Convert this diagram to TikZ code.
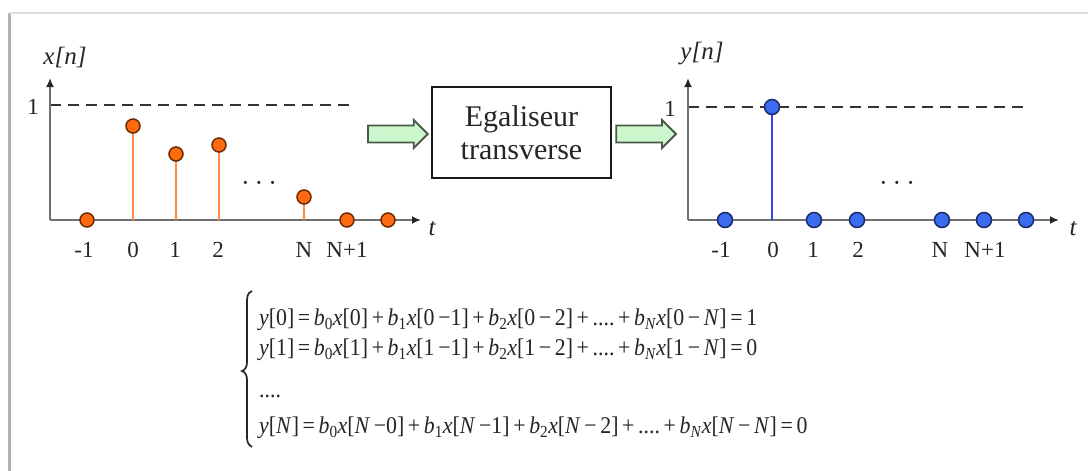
\documentclass[tikz,border=0pt]{standalone}
\usepackage{fontspec}
\setmainfont{Liberation Serif}
\usetikzlibrary{arrows.meta,calc}
\definecolor{orfill}{HTML}{FF6A10}
\definecolor{orline}{HTML}{6A2A00}
\definecolor{orstem}{HTML}{FF8C45}
\definecolor{blfill}{HTML}{3A6BF0}
\definecolor{blline}{HTML}{1A2A6A}
\definecolor{blstem}{HTML}{3344FF}
\definecolor{axgray}{HTML}{707070}
\definecolor{gfill}{HTML}{CCF7CC}
\definecolor{gline}{HTML}{4A5A4A}
\definecolor{txt}{HTML}{252525}
\newcommand\gArrow[2]{\draw[garrow] ($(#1)+(0,-8.5)$) -- ($(#2)+(-14,-8.5)$) -- ($(#2)+(-14,-14)$) -- (#2) -- ($(#2)+(-14,14)$) -- ($(#2)+(-14,8.5)$) -- ($(#1)+(0,8.5)$) -- cycle;}
\newcommand\eqsq[1]{\scalebox{0.91}[1]{#1}}
\begin{document}
\begin{tikzpicture}[x=1pt,y=-1pt,
  axis/.style={line width=2.5pt,draw=axgray,-{Latex[length=9pt,width=8pt,color=black!85]}},
  dashline/.style={line width=2.5pt,draw=black!80,dash pattern=on 11pt off 7pt},
  odot/.style={circle,fill=orfill,draw=orline,line width=1.5pt,minimum size=14pt,inner sep=0pt},
  bdot/.style={circle,fill=blfill,draw=blline,line width=1.5pt,minimum size=15pt,inner sep=0pt},
  ostem/.style={line width=2.4pt,draw=orstem},
  bstem/.style={line width=2.4pt,draw=blstem},
  tick/.style={font=\fontsize{23}{25}\selectfont,text=txt,inner sep=0pt},
  axlab/.style={font=\fontsize{25}{27}\selectfont\itshape,text=txt,inner sep=0pt},
  dotsl/.style={font=\fontsize{26}{28}\selectfont,text=txt,inner sep=0pt},
  garrow/.style={fill=gfill,draw=gline,line width=1.8pt,line join=miter},
  eqbox/.style={draw=black!90,line width=2.5pt,minimum width=179pt,minimum height=91pt,align=center,font=\fontsize{30}{33}\selectfont,text=txt},
  eq/.style={anchor=west,inner sep=0pt,text=txt,font=\fontsize{24}{26}\selectfont},
]
\useasboundingbox (0,0) rectangle (1088,471);
% frame
\draw[line width=3pt,draw=black!30] (9,13) -- (9,471);
\draw[line width=1.5pt,draw=black!13] (9,13) -- (1088,13);

% ---------- left plot ----------
\coordinate (lo) at (50,220);
\coordinate (lxe) at (421,220);
\coordinate (lye) at (50,78);
\coordinate (lone) at (50,105);
\coordinate (ldash) at (356,105);
\draw[dashline] (lone) -- (ldash);
\draw[axis] (lo) -- (lxe);
\draw[axis] (lo) -- (lye);
\node[axlab] (lyl) at (65,57) {x[n]};
\node[axlab] (lt) at (432,229) {t};
\node[tick] (l1) at (33,107) {1};
% stems
\coordinate (xa0) at (133,126); \coordinate (xb0) at (133,220);
\coordinate (xa1) at (176,154); \coordinate (xb1) at (176,220);
\coordinate (xa2) at (219,145); \coordinate (xb2) at (219,220);
\coordinate (xaN) at (304,197); \coordinate (xbN) at (304,220);
\draw[ostem] (xb0) -- (xa0);
\draw[ostem] (xb1) -- (xa1);
\draw[ostem] (xb2) -- (xa2);
\draw[ostem] (xbN) -- (xaN);
\node[odot] (xm1) at (87,220) {};
\node[odot] (x0) at (xa0) {};
\node[odot] (x1) at (xa1) {};
\node[odot] (x2) at (xa2) {};
\node[odot] (xN) at (xaN) {};
\node[odot] (xN1) at (347,220) {};
\node[odot] (xN2) at (388,220) {};
\node[dotsl] (ldots) at (259,186) {·\hspace{5pt}·\hspace{5pt}·};
\node[tick] (lm1) at (84,250) {-1};
\node[tick] (l0) at (133,250) {0};
\node[tick] (l1b) at (175,250) {1};
\node[tick] (l2) at (218,250) {2};
\node[tick] (lN) at (304,250) {N};
\node[tick] (lN1) at (347,250) {N+1};

% ---------- box and arrows ----------
\node[eqbox] (box) at (521.5,132.5) {Egaliseur\\transverse};
\coordinate (la) at (368,134);
\coordinate (lb) at ($(box.west)+(-3,1.5)$);
\coordinate (ra) at ($(box.east)+(4,1.5)$);
\coordinate (rb) at (676,134);
\gArrow{la}{lb}
\gArrow{ra}{rb}

% ---------- right plot ----------
\coordinate (ro) at (688,220);
\coordinate (rxe) at (1059,220);
\coordinate (rye) at (688,78);
\coordinate (rone) at (688,107);
\coordinate (rdash) at (1029,107);
\draw[dashline] (rone) -- (rdash);
\draw[axis] (ro) -- (rxe);
\draw[axis] (ro) -- (rye);
\node[axlab] (ryl) at (702,54) {y[n]};
\node[axlab] (rt) at (1073,229) {t};
\node[tick] (r1) at (670,109) {1};
\coordinate (ya0) at (772,107); \coordinate (yb0) at (772,220);
\draw[bstem] (yb0) -- (ya0);
\node[bdot] (ym1) at (725,220) {};
\node[bdot] (y0) at (ya0) {};
\node[bdot] (y1) at (814,220) {};
\node[bdot] (y2) at (857,220) {};
\node[bdot] (yN) at (942,220) {};
\node[bdot] (yN1) at (984,220) {};
\node[bdot] (yN2) at (1026,220) {};
\node[dotsl] (rdots) at (897,186) {·\hspace{5pt}·\hspace{5pt}·};
\node[tick] (rm1) at (721,250) {-1};
\node[tick] (r0) at (773,250) {0};
\node[tick] (r1b) at (813,250) {1};
\node[tick] (r2) at (858,250) {2};
\node[tick] (rN) at (940,250) {N};
\node[tick] (rN1) at (985,250) {N+1};

% ---------- equations ----------
\draw[line width=1.7pt,draw=txt]
  (252,291) .. controls (247,293) and (247,297) .. (247,304)
  -- (247,362) .. controls (247,367) and (245,370) .. (242,371)
  .. controls (245,372) and (247,375) .. (247,380)
  -- (247,434) .. controls (247,441) and (247,444) .. (252,447);
\node[eq] (e1) at (259,320) {\eqsq{\textit{y}[0]\,=\,\textit{b}\textsubscript{0}\textit{x}[0]\,+\,\textit{b}\textsubscript{1}\textit{x}[0\,−1]\,+\,\textit{b}\textsubscript{2}\textit{x}[0\,−\,2]\,+\,....\,+\,\textit{b}\textsubscript{\textit{N}}\textit{x}[0\,−\,\textit{N}]\,=\,1}};
\node[eq] (e2) at (259,350) {\eqsq{\textit{y}[1]\,=\,\textit{b}\textsubscript{0}\textit{x}[1]\,+\,\textit{b}\textsubscript{1}\textit{x}[1\,−1]\,+\,\textit{b}\textsubscript{2}\textit{x}[1\,−\,2]\,+\,....\,+\,\textit{b}\textsubscript{\textit{N}}\textit{x}[1\,−\,\textit{N}]\,=\,0}};
\node[eq] (e3) at (259,396) {\eqsq{....}};
\node[eq] (e4) at (259,428) {\eqsq{\textit{y}[\textit{N}]\,=\,\textit{b}\textsubscript{0}\textit{x}[\textit{N}\,−0]\,+\,\textit{b}\textsubscript{1}\textit{x}[\textit{N}\,−1]\,+\,\textit{b}\textsubscript{2}\textit{x}[\textit{N}\,−\,2]\,+\,....\,+\,\textit{b}\textsubscript{\textit{N}}\textit{x}[\textit{N}\,−\,\textit{N}]\,=\,0}};
\end{tikzpicture}
\end{document}
